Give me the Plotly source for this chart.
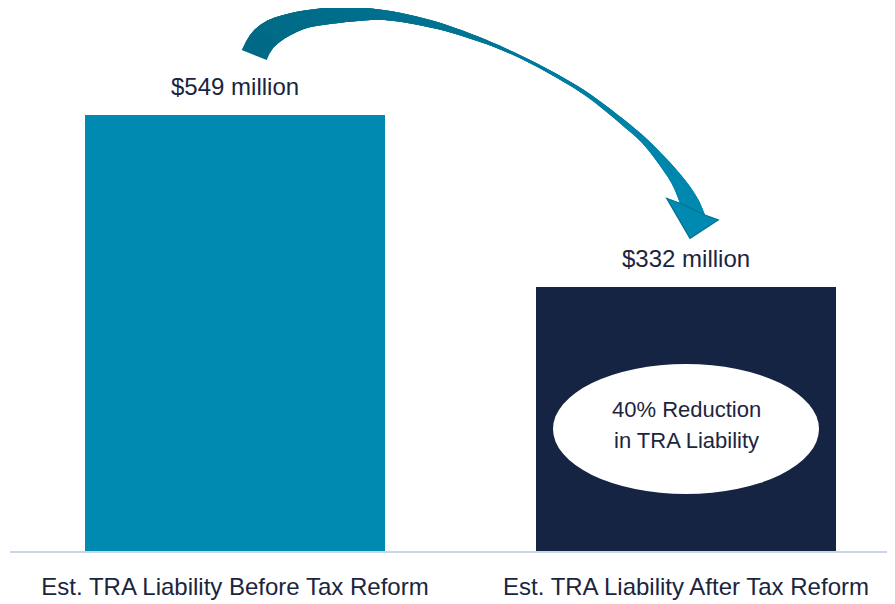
import numpy as np
import plotly.graph_objects as go

# ---- data ----
categories = ["Est. TRA Liability Before Tax Reform", "Est. TRA Liability After Tax Reform"]
values = [549, 332]
value_labels = ["$549 million", "$332 million"]
bar_colors = ["#0089B1", "#162443"]
callout_lines = ["40% Reduction", "in TRA Liability"]

TEXT = "#1B2540"
FONT = "Liberation Sans, Arial, sans-serif"

OFF = 8  # page body margin
W, H = 895 - OFF, 604 - OFF
ML, MR, MT, MB = 10 - OFF, 0, 0, 53
PW, PH = W - ML - MR, H - MT - MB


def px(x, y):
    """page-pixel -> paper coordinates (decoration only)"""
    x, y = x - OFF, y - OFF
    return (x - ML) / PW, (MT + PH - y) / PH


fig = go.Figure()
fig.add_trace(go.Bar(
    x=categories, y=values, marker=dict(color=bar_colors, line=dict(width=0)),
    width=0.667, hoverinfo="skip", showlegend=False,
))

# value labels above bars
for c, v, t in zip(categories, values, value_labels):
    fig.add_annotation(x=c, y=v, text=t, showarrow=False, xref="x", yref="y",
                       yanchor="middle", yshift=29,
                       font=dict(size=24, color=TEXT, family=FONT))

shapes = []

# ---- curved arrow (decoration) ----
U = [(241.7, 50), (250, 35), (263, 23), (283, 15), (313, 9.3), (347, 7.3), (390, 11),
     (446.7, 25), (513, 51.7), (580, 87.5), (633, 127), (660, 152), (681, 175),
     (696.7, 196.7), (705, 215)]
L = [(266.7, 60), (273, 48), (287, 37), (307, 28), (330, 24), (363, 20.7), (390, 20.5),
     (446.7, 31.5), (513, 55), (580, 92), (626.7, 129), (643, 144), (658, 163),
     (672, 184), (680, 203.3)]


def catmull(pts, per=12):
    p = np.array(pts, float)
    p = np.vstack([2 * p[0] - p[1], p, 2 * p[-1] - p[-2]])
    out = []
    for i in range(1, len(p) - 2):
        p0, p1, p2, p3 = p[i - 1], p[i], p[i + 1], p[i + 2]
        for t in np.linspace(0, 1, per, endpoint=False):
            t2, t3 = t * t, t * t * t
            out.append(0.5 * ((2 * p1) + (-p0 + p2) * t + (2 * p0 - 5 * p1 + 4 * p2 - p3) * t2
                              + (-p0 + 3 * p1 - 3 * p2 + p3) * t3))
    out.append(p[-2])
    return np.array(out)


def resample(p, n):
    d = np.r_[0, np.cumsum(np.hypot(*np.diff(p, axis=0).T))]
    s = np.linspace(0, d[-1], n)
    return np.c_[np.interp(s, d, p[:, 0]), np.interp(s, d, p[:, 1])]


N = 70
Ur, Lr = resample(catmull(U), N), resample(catmull(L), N)
c0 = np.array([0x00, 0x6A, 0x86])
c1 = np.array([0x00, 0x89, 0xB1])
for i in range(N - 1):
    j = min(i + 3, N - 1)
    f = (i / (N - 2)) ** 1.3
    col = c0 + (c1 - c0) * f
    colstr = "rgb(%d,%d,%d)" % tuple(col.round().astype(int))
    poly = list(Ur[i:j + 1]) + list(Lr[i:j + 1][::-1])
    path = "M " + " L ".join("%.5f,%.5f" % px(*q) for q in poly) + " Z"
    shapes.append(dict(type="path", xref="paper", yref="paper", path=path,
                       fillcolor=colstr, line=dict(width=0), layer="above"))

head = [(705, 215), (718.3, 220), (690, 238.3), (666.7, 198.3), (680, 203.3)]
hp = "M " + " L ".join("%.5f,%.5f" % px(*q) for q in head) + " Z"
shapes.append(dict(type="path", xref="paper", yref="paper", path=hp,
                   fillcolor="#0089B1", line=dict(color="#00728F", width=1.2), layer="above"))

# ---- callout ellipse ----
ex0, ey0 = px(553, 364)
ex1, ey1 = px(819, 494)
shapes.append(dict(type="circle", xref="paper", yref="paper", x0=ex0, x1=ex1, y0=ey1, y1=ey0,
                   fillcolor="white", line=dict(width=0), layer="above"))

for line_txt, ypx in zip(callout_lines, [409, 440]):
    xp, yp = px(686, ypx)
    fig.add_annotation(x=xp, y=yp, xref="paper", yref="paper", text=line_txt,
                       showarrow=False, xanchor="center", yanchor="middle",
                       font=dict(size=22, color=TEXT, family=FONT))

fig.update_layout(
    width=W, height=H, margin=dict(l=ML, r=MR, t=MT, b=MB),
    paper_bgcolor="white", plot_bgcolor="white",
    shapes=shapes, bargap=0,
    xaxis=dict(range=[-(235 - 10) / 451, 1 + (895 - 686) / 451], showline=True,
               linecolor="#C9D6EA", linewidth=2,
               showgrid=False, zeroline=False, ticks="", ticklabelstandoff=13,
               tickfont=dict(size=24, color=TEXT, family=FONT), fixedrange=True),
    yaxis=dict(range=[0, 549 * PH / 436], visible=False, showgrid=False, zeroline=False,
               fixedrange=True),
    showlegend=False,
)

fig.write_html("out.html")
